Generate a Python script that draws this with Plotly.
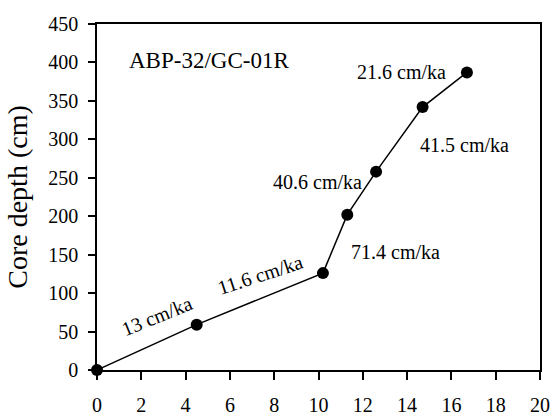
import plotly.graph_objects as go

age_ka = [0, 4.5, 10.2, 11.3, 12.6, 14.7, 16.7]
depth_cm = [0, 59, 126, 202, 258, 342, 387]

rate_labels = ["13 cm/ka", "11.6 cm/ka", "71.4 cm/ka", "40.6 cm/ka", "41.5 cm/ka", "21.6 cm/ka"]
rate_x = [2.72, 7.34, 13.46, 9.96, 16.61, 13.75]
rate_y = [70, 124, 154, 245, 293, 387]
rate_angle = [-22, -18, 0, 0, 0, 0]

core_name = "ABP-32/GC-01R"
x_ticks = list(range(0, 21, 2))
y_ticks = list(range(0, 451, 50))

FONT = "Liberation Serif"

fig = go.Figure()
fig.add_trace(go.Scatter(
    x=age_ka, y=depth_cm, mode="lines+markers",
    line=dict(color="black", width=1.5),
    marker=dict(color="black", size=12),
    showlegend=False, cliponaxis=False,
))

for t, x, y, a in zip(rate_labels, rate_x, rate_y, rate_angle):
    fig.add_annotation(x=x, y=y, text=t, showarrow=False, textangle=a,
                       font=dict(family=FONT, size=20, color="black"))

fig.add_annotation(x=1.37, y=402, text=core_name, showarrow=False, xanchor="left",
                   font=dict(family=FONT, size=23, color="black"))

fig.update_layout(
    width=553, height=418,
    margin=dict(l=97, r=13, t=24, b=48),
    plot_bgcolor="white", paper_bgcolor="white",
    font=dict(family=FONT, size=20, color="black"),
)
fig.update_xaxes(range=[0, 20], tickvals=x_ticks, ticks="outside", ticklen=8, tickwidth=1.5,
                 tickcolor="black", showline=True, linecolor="black", linewidth=1.5,
                 mirror=True, showgrid=False, zeroline=False, ticklabelstandoff=8,
                 automargin=False,
                 tickfont=dict(family=FONT, size=20, color="black"))
fig.update_yaxes(range=[0, 450], tickvals=y_ticks, ticks="outside", ticklen=7, tickwidth=1.5,
                 tickcolor="black", showline=True, linecolor="black", linewidth=1.5,
                 mirror=True, showgrid=False, zeroline=False, ticklabelstandoff=6,
                 automargin=False,
                 tickfont=dict(family=FONT, size=20, color="black"),
                 title=dict(text="Core depth (cm)", font=dict(family=FONT, size=28, color="black"), standoff=12))

fig.write_html("out.html")
